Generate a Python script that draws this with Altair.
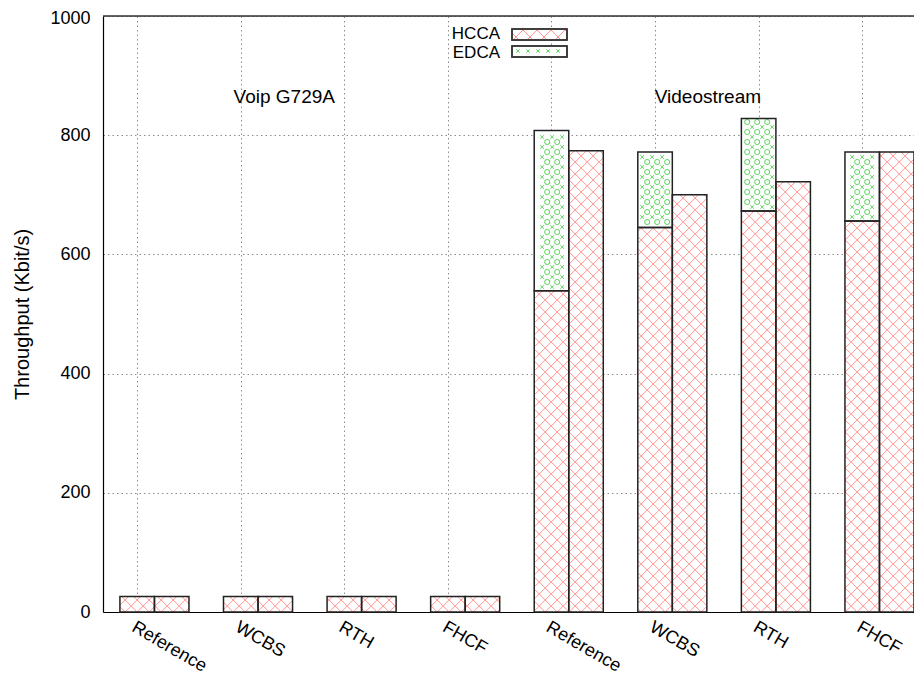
import altair as alt
import numpy as np
import pandas as pd

# ---------------- data ----------------
schemes = ["Reference", "WCBS", "RTH", "FHCF", "Reference", "WCBS", "RTH", "FHCF"]
hcca_left = [26, 26, 26, 26, 539, 645, 673, 656]
edca_left = [0, 0, 0, 0, 269, 127, 155, 116]
hcca_right = [26, 26, 26, 26, 774, 700, 722, 772]
group_titles = ["Voip G729A", "Videostream"]
group_title_x = [1.42, 5.51]
group_title_y = [864, 864]
legend_labels = ["HCCA", "EDCA"]
y_ticks = [0, 200, 400, 600, 800, 1000]

# ---------------- layout constants ----------------
W, H = 811, 596
XMIN, XMAX = -0.33, 7.5
YMIN, YMAX = 0, 1000
SX = (XMAX - XMIN) / W      # data units per pixel (x)
SY = (YMAX - YMIN) / H      # data units per pixel (y)
FONT = "Liberation Sans"
RED = "#ff4d4d"
GREEN = "#3fd03f"

# ---------------- bars ----------------
rows = []
for i, (hl, el, hr) in enumerate(zip(hcca_left, edca_left, hcca_right)):
    rows.append(dict(x=i - 1 / 6, x2=i + 1 / 6, y=0, y2=hl, series="HCCA"))
    if el > 0:
        rows.append(dict(x=i - 1 / 6, x2=i + 1 / 6, y=hl, y2=hl + el, series="EDCA"))
    rows.append(dict(x=i + 1 / 6, x2=i + 1 / 2, y=0, y2=hr, series="HCCA"))
bars = pd.DataFrame(rows)


def cross_hatch(u0, u1, v0, v1, step):
    segs = []
    for k in range(int(np.ceil((v0 - u1) / step)), int(np.floor((v1 - u0) / step)) + 1):
        c = k * step
        a, b = max(u0, v0 - c), min(u1, v1 - c)
        if b - a > 0.3:
            segs.append((a, a + c, b, b + c))
    for k in range(int(np.ceil((u0 + v0) / step)), int(np.floor((u1 + v1) / step)) + 1):
        c = k * step
        a, b = max(u0, c - v1), min(u1, c - v0)
        if b - a > 0.3:
            segs.append((a, c - a, b, c - b))
    return segs


def lattice(u0, u1, v0, v1, step, margin):
    circ, crs = [], []
    for i in range(int(np.floor(u0 / step)) - 1, int(np.ceil(u1 / step)) + 2):
        for j in range(int(np.floor(v0 / step)) - 1, int(np.ceil(v1 / step)) + 2):
            for du, lst in ((0.0, circ), (0.5, crs)):
                u, v = (i + du) * step, (j + du) * step
                if u0 + margin <= u <= u1 - margin and v0 + margin <= v <= v1 - margin:
                    lst.append((u, v))
    return circ, crs


hatch_rows, circ_rows, cross_rows = [], [], []
for r in bars.itertuples():
    u0, u1, v0, v1 = r.x / SX, r.x2 / SX, r.y / SY, r.y2 / SY
    if r.series == "HCCA":
        for a, va, b, vb in cross_hatch(u0, u1, v0, v1, 12):
            hatch_rows.append(dict(x=a * SX, y=va * SY, x2=b * SX, y2=vb * SY))
    else:
        c, x = lattice(u0, u1, v0, v1, 10, 3)
        circ_rows += [dict(x=u * SX, y=v * SY) for u, v in c]
        cross_rows += [dict(x=u * SX, y=v * SY) for u, v in x]
hatch = pd.DataFrame(hatch_rows)
circles = pd.DataFrame(circ_rows)
crosses = pd.DataFrame(cross_rows)

titles = pd.DataFrame(dict(x=group_title_x, y=group_title_y, t=group_titles))

# ---------------- encodings ----------------
xscale = alt.Scale(domain=[XMIN, XMAX], nice=False, zero=False)
yscale = alt.Scale(domain=[YMIN, YMAX], nice=False)
label_expr = "[" + ",".join(f"'{s}'" for s in schemes) + "][datum.value]"
xaxis = alt.Axis(values=list(range(len(schemes))), labelExpr=label_expr, labelAngle=30,
                 labelAlign="left", labelBaseline="top", labelPadding=6, ticks=False,
                 tickSize=0, grid=True, gridDash=[1.5, 3], gridColor="#8c8c8c",
                 domainColor="#000000", domainWidth=1.2, labelFontSize=18,
                 labelFlush=False, labelOverlap=False)
yaxis = alt.Axis(values=y_ticks, format="d", ticks=False, tickSize=0, labelPadding=13,
                 labelOffset={"condition": {"test": "datum.value === 1000", "value": 2},
                              "value": 0},
                 grid=True, gridDash=[1.5, 3], gridColor="#8c8c8c", domainColor="#000000",
                 domainWidth=1.2, labelFontSize=18, titleFontSize=20,
                 titleFontWeight="normal", titlePadding=17)


def X(f="x"):
    return alt.X(f"{f}:Q", scale=xscale, axis=xaxis, title=None)


def Y(f="y"):
    return alt.Y(f"{f}:Q", scale=yscale, axis=yaxis, title="Throughput (Kbit/s)")


base_fill = alt.Chart(bars).mark_rect(fill="white", strokeWidth=0).encode(
    x=X(), x2="x2:Q", y=Y(), y2="y2:Q")

hatch_layer = alt.Chart(hatch).mark_rule(stroke=RED, strokeWidth=1, strokeOpacity=0.6).encode(
    x=X(), x2="x2:Q", y=Y(), y2="y2:Q")

circle_layer = alt.Chart(circles).mark_point(shape="circle", size=26, filled=False,
                                             stroke=GREEN, strokeWidth=1, opacity=0.85).encode(
    x=X(), y=Y())
cross_layer = alt.Chart(crosses).mark_point(shape="M-1,-1L1,1M-1,1L1,-1", size=14, filled=False,
                                            stroke=GREEN, strokeWidth=1, opacity=0.85).encode(
    x=X(), y=Y())

outline = alt.Chart(bars).mark_rect(fillOpacity=0, stroke="#222222", strokeWidth=1.5).encode(
    x=X(), x2="x2:Q", y=Y(), y2="y2:Q")

title_layer = alt.Chart(titles).mark_text(font=FONT, fontSize=19, color="black").encode(
    x=X(), y=Y(), text="t:N")

one = pd.DataFrame({"a": [0]})
top_border = alt.Chart(one).mark_rule(color="#333333", strokeWidth=1.6).encode(
    x=alt.value(0), x2=alt.value(W), y=alt.value(0))

# ---------------- legend (drawn manually, in pixels) ----------------
leg_layers = []
sw_x0, sw_x1 = 409, 464
sw_rows = [(13, 24), (30, 41)]
text_y = [18, 37]
leg_hatch, leg_circ, leg_cross = [], [], []
for k, lab in enumerate(legend_labels):
    y0, y1 = sw_rows[k]
    leg_layers.append(alt.Chart(one).mark_text(font=FONT, fontSize=17, align="right",
                                               baseline="middle", color="black").encode(
        x=alt.value(397), y=alt.value(text_y[k]), text=alt.value(lab)))
    leg_layers.append(alt.Chart(one).mark_rect(fill="white", stroke="#333333", strokeWidth=1.5).encode(
        x=alt.value(sw_x0), x2=alt.value(sw_x1), y=alt.value(y0), y2=alt.value(y1)))
    if lab == "HCCA":
        for a, va, b, vb in cross_hatch(sw_x0, sw_x1, y0, y1, 14):
            leg_hatch.append(dict(px=a, py=va, px2=b, py2=vb))
    else:
        c, x = lattice(sw_x0, sw_x1, y0, y1, 10, 2.5)
        leg_circ += [dict(px=u, py=v) for u, v in c]
        leg_cross += [dict(px=u, py=v) for u, v in x]

leg_layers.append(alt.Chart(pd.DataFrame(leg_hatch)).mark_rule(
    stroke=RED, strokeWidth=1, strokeOpacity=0.6).encode(
    x=alt.X("px:Q", scale=None), x2="px2:Q", y=alt.Y("py:Q", scale=None), y2="py2:Q"))
leg_layers.append(alt.Chart(pd.DataFrame(leg_circ)).mark_point(
    shape="circle", size=20, filled=False, stroke=GREEN, strokeWidth=1, opacity=0.85).encode(
    x=alt.X("px:Q", scale=None), y=alt.Y("py:Q", scale=None)))
leg_layers.append(alt.Chart(pd.DataFrame(leg_cross)).mark_point(
    shape="M-1,-1L1,1M-1,1L1,-1", size=12, filled=False, stroke=GREEN, strokeWidth=1,
    opacity=0.85).encode(
    x=alt.X("px:Q", scale=None), y=alt.Y("py:Q", scale=None)))
for y0, y1 in sw_rows:
    leg_layers.append(alt.Chart(one).mark_rect(fillOpacity=0, stroke="#333333", strokeWidth=1.5).encode(
        x=alt.value(sw_x0), x2=alt.value(sw_x1), y=alt.value(y0), y2=alt.value(y1)))

chart = alt.layer(
    base_fill, hatch_layer, circle_layer, cross_layer, outline, title_layer, top_border,
    *leg_layers
).properties(
    width=W, height=H,
    autosize=alt.AutoSizeParams(type="none"),
    padding={"left": 95, "top": 8, "right": 0, "bottom": 64},
).configure_view(stroke=None).configure_axis(
    labelFont=FONT, titleFont=FONT, labelColor="black", titleColor="black"
).configure(background="white")

chart.save("out.html", embed_options={"renderer": "svg", "actions": False})
